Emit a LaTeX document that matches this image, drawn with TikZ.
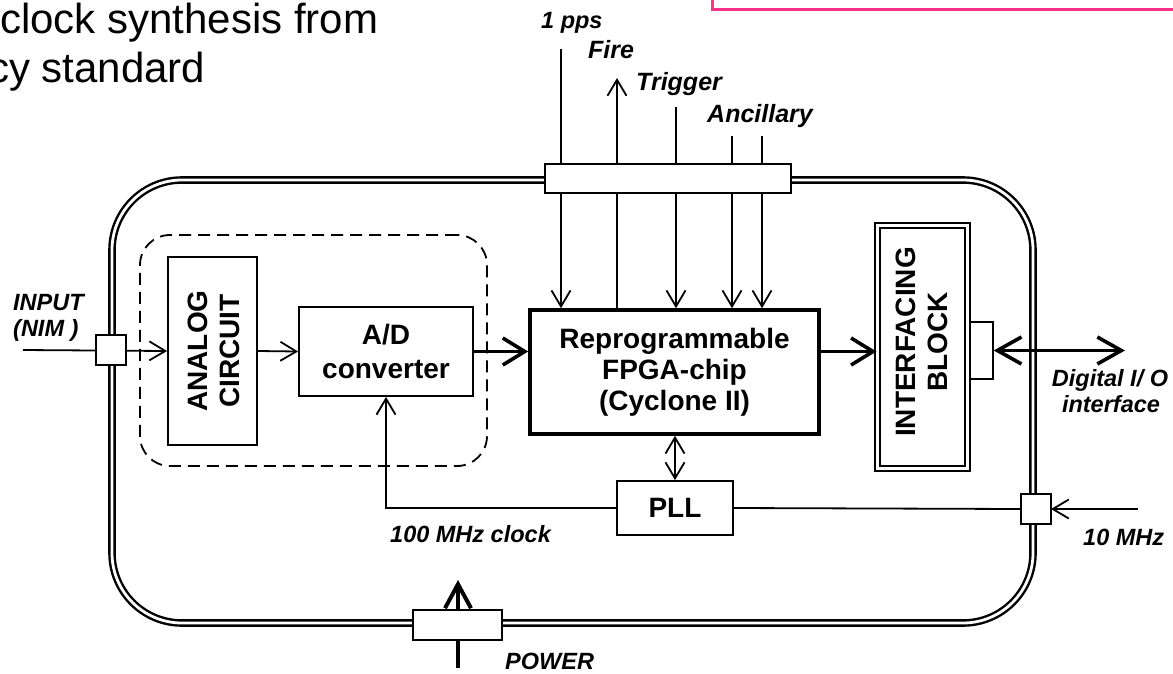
\documentclass[tikz,border=0pt]{standalone}
\usepackage{fontspec}
\setmainfont{Liberation Sans}
\usetikzlibrary{arrows.meta}
\definecolor{pinkline}{RGB}{255,51,133}
\begin{document}
\begin{tikzpicture}[x=1pt,y=-1pt,
  box/.style={draw, line width=1.8pt, inner sep=0pt, fill=white},
  boxtxt/.style={font=\fontsize{28}{32}\selectfont\bfseries, align=center, inner sep=0pt},
  lbl/.style={font=\fontsize{23.5}{26}\selectfont\bfseries\itshape, inner sep=0pt},
  toplbl/.style={font=\fontsize{25}{28}\selectfont\bfseries\itshape, inner sep=0pt},
  heading/.style={font=\fontsize{42}{48}\selectfont, inner sep=0pt},
  thinline/.style={line width=1.8pt},
  thinarr/.style={line width=1.8pt, -{Straight Barb[length=16pt,width=19pt]}},
  thinboth/.style={line width=1.8pt, {Straight Barb[length=16pt,width=19pt]}-{Straight Barb[length=16pt,width=19pt]}},
  thickarr/.style={line width=3.6pt, -{Straight Barb[length=22pt,width=27pt]}},
  thickboth/.style={line width=3.6pt, {Straight Barb[length=24pt,width=27pt]}-{Straight Barb[length=24pt,width=27pt]}},
  bar/.style={draw, line width=2pt, fill=white, inner sep=0pt},
  dbl/.style={draw, double, line width=2.4pt, double distance=2.8pt, inner sep=0pt}
]
\useasboundingbox (0,0) rectangle (1173,673);
\fill[white] (0,0) rectangle (1173,673);
\clip (0,0) rectangle (1173,673);

% pink frame
\draw[pinkline, line width=3pt] (712,-10) rectangle (1190,9.5);

% heading
\node[heading, anchor=base west] (h1) at (0,33) {clock synthesis from};
\node[heading, anchor=base west] (h2) at (-12,82) {cy standard};

% board
\node[dbl, rounded corners=70pt, minimum width=921pt, minimum height=443pt] (board) at (572.5,401.5) {};

% dashed analog front end
\node[draw, dash pattern=on 12pt off 7pt, line width=1.8pt, rounded corners=30pt,
      minimum width=347pt, minimum height=231pt, inner sep=0pt] (afe) at (313.5,350.5) {};

% blocks
\node[box, minimum width=89pt, minimum height=188pt] (analog) at (212.5,351) {};
\node[boxtxt, rotate=90] (analogtxt) at (214,351) {ANALOG\\CIRCUIT};
\node[box, boxtxt, font=\fontsize{28}{34}\selectfont\bfseries, minimum width=174pt, minimum height=89pt] (adc) at (386,351.5) {A/D\\converter};
\node[box, boxtxt, font=\fontsize{28}{31}\selectfont\bfseries, line width=3.6pt, minimum width=289pt, minimum height=124pt] (fpga) at (674.5,372) {Reprogrammable\\FPGA-chip\\(Cyclone II)};
\node[dbl, line width=2pt, double distance=2.8pt, fill=white, minimum width=90pt, minimum height=243pt] (iface) at (922.5,347) {};
\node[boxtxt, rotate=90] (ifacetxt) at (922,342) {INTERFACING\\BLOCK};
\node[draw, line width=1.5pt, minimum width=23pt, minimum height=57pt, inner sep=0pt] (tab) at (981.5,350.5) {};
\node[box, boxtxt, minimum width=116pt, minimum height=54pt] (pll) at (675,508) {PLL};

% free ends
\coordinate (inp) at (23,350);
\coordinate (ten) at (1138,509);
\coordinate (dio) at (1125,350.5);
\coordinate (pps) at (561,49);
\coordinate (fire) at (617,78);
\coordinate (trig) at (676,107);
\coordinate (anca) at (732,136);
\coordinate (ancb) at (762,136);
\coordinate (powin) at (458,668);
\coordinate (powtip) at (458,580);

% connectors
\draw[thinarr] (inp) -- (analog.west);
\draw[thinarr] (analog.east) -- (adc.west);
\draw[thickarr] (adc.east) -- (adc.east -| fpga.west);
\draw[thickarr] (adc.east -| fpga.east) -- (adc.east -| iface.west);
\draw[thickboth] (tab.east) -- (dio);
\draw[thinarr] (ten) -- (1051,509);
\draw[thinline] (pll.east) -- (1021,509);
\draw[thinarr] (pll.west) -| (adc.south);
\draw[thinboth] (pll.north) -- (pll.north |- fpga.south);
\draw[thinarr] (pps) -- (pps |- fpga.north);
\draw[thinarr] (fire |- fpga.north) -- (fire);
\draw[thinarr] (trig) -- (trig |- fpga.north);
\draw[thinarr] (anca) -- (anca |- fpga.north);
\draw[thinarr] (ancb) -- (ancb |- fpga.north);
\draw[line width=4pt, -{Straight Barb[length=24pt,width=26pt]}] (powin) -- (powtip);

% bars and squares on top
\node[bar, minimum width=246pt, minimum height=29pt] (topbar) at (668,178.5) {};
\node[bar, minimum width=89pt, minimum height=30pt] (powbar) at (457.5,625) {};
\node[box, minimum size=30pt] (insq) at (111,350) {};
\node[box, minimum size=30pt] (tensq) at (1036,509) {};

% labels
\node[lbl, anchor=base west] (lpps) at (541,28) {1 pps};
\node[toplbl, anchor=base west] (lfire) at (588,58) {Fire};
\node[toplbl, anchor=base west] (ltrig) at (636,90) {Trigger};
\node[toplbl, anchor=base west] (lanc) at (707,122) {Ancillary};
\node[lbl, anchor=base west] (linp1) at (13,310) {INPUT};
\node[lbl, anchor=base west] (linp2) at (13,336) {(NIM )};
\node[lbl, anchor=base west] (lclk) at (390,542) {100 MHz clock};
\node[lbl, anchor=base west] (lten) at (1083,545) {10 MHz};
\node[lbl, anchor=base west] (lpow) at (505,669) {POWER};
\node[lbl, anchor=base] (ldio1) at (1110,386) {Digital I/ O};
\node[lbl, anchor=base] (ldio2) at (1111,412) {interface};
\end{tikzpicture}
\end{document}
